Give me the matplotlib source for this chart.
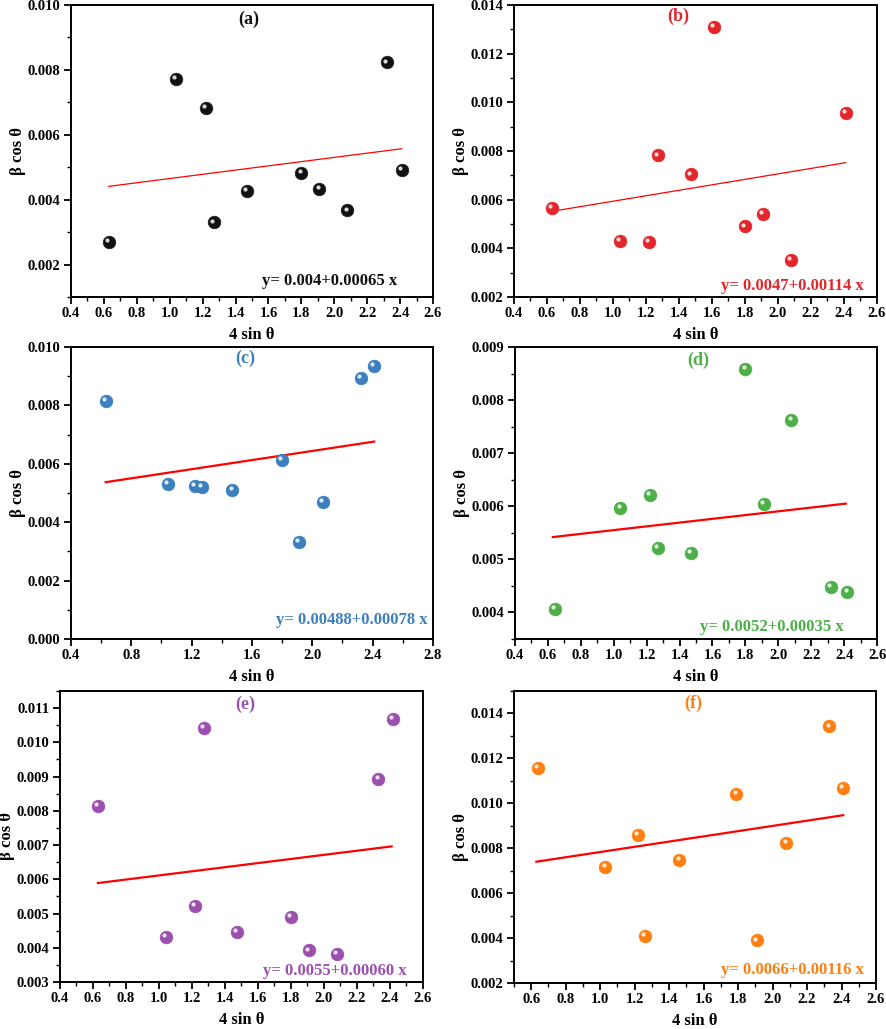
import numpy as np
import matplotlib.pyplot as plt
from matplotlib.ticker import MultipleLocator, FormatStrFormatter
import matplotlib.transforms as mtransforms

plt.rcParams['font.family'] = ['Liberation Serif', 'DejaVu Serif']
plt.rcParams['font.weight'] = 'bold'

# Данные по панелям (4 sin θ, β cos θ)
x_a = [0.63, 1.04, 1.22, 1.27, 1.47, 1.80, 1.91, 2.08, 2.32, 2.41]
y_a = [0.00271, 0.00773, 0.00682, 0.00330, 0.00428, 0.00482, 0.00432, 0.00367, 0.00823, 0.00491]

x_b = [0.63, 1.04, 1.22, 1.27, 1.47, 1.61, 1.80, 1.91, 2.08, 2.41]
y_b = [0.00566, 0.00432, 0.00426, 0.00782, 0.00704, 0.01311, 0.00490, 0.00542, 0.00352, 0.00958]

x_c = [0.63, 1.04, 1.22, 1.27, 1.47, 1.80, 1.91, 2.07, 2.32, 2.41]
y_c = [0.00814, 0.00531, 0.00524, 0.00521, 0.00510, 0.00614, 0.00332, 0.00469, 0.00894, 0.00936]

x_d = [0.64, 1.04, 1.22, 1.27, 1.47, 1.80, 1.91, 2.08, 2.32, 2.42]
y_d = [0.00407, 0.00597, 0.00621, 0.00521, 0.00512, 0.00859, 0.00604, 0.00763, 0.00448, 0.00438]

x_e = [0.63, 1.04, 1.22, 1.27, 1.47, 1.80, 1.91, 2.08, 2.33, 2.42]
y_e = [0.00814, 0.00431, 0.00523, 0.01043, 0.00446, 0.00491, 0.00392, 0.00381, 0.00893, 0.01068]

x_f = [0.64, 1.03, 1.22, 1.26, 1.46, 1.79, 1.91, 2.08, 2.33, 2.41]
y_f = [0.01156, 0.00717, 0.00858, 0.00411, 0.00748, 0.01041, 0.00390, 0.00822, 0.01342, 0.01070]

# Линейная аппроксимация: концы прямой (x от 0.63 до 2.41)
fit_x = [0.63, 2.41]
fit_a = [0.00441, 0.00557]
fit_b = [0.00552, 0.00752]
fit_c = [0.00537, 0.00676]
fit_d = [0.00542, 0.00605]
fit_e = [0.00589, 0.00696]
fit_f = [0.00740, 0.00947]

labels = ['(a)', '(b)', '(c)', '(d)', '(e)', '(f)']
equations = ['y= 0.004+0.00065 x', 'y= 0.0047+0.00114 x', 'y= 0.00488+0.00078 x',
             'y= 0.0052+0.00035 x', 'y= 0.0055+0.00060 x', 'y= 0.0066+0.00116 x']
colors = ['#111111', '#e3262b', '#3b7fbf', '#4caf48', '#9b4fae', '#ff7f10']

xs = [x_a, x_b, x_c, x_d, x_e, x_f]
ys = [y_a, y_b, y_c, y_d, y_e, y_f]
fits = [fit_a, fit_b, fit_c, fit_d, fit_e, fit_f]

# оформление осей
xlims = [(0.4, 2.6), (0.4, 2.6), (0.4, 2.8), (0.4, 2.6), (0.4, 2.6), (0.5, 2.6)]
ylims = [(0.001, 0.010), (0.002, 0.014), (0.000, 0.010), (0.0035, 0.009), (0.003, 0.0115), (0.002, 0.015)]
xmajor = [0.2, 0.2, 0.4, 0.2, 0.2, 0.2]
xminor = [0.1, 0.1, 0.2, 0.1, 0.1, 0.1]
ymajor = [0.002, 0.002, 0.002, 0.001, 0.001, 0.002]
yminor = [0.001, 0.001, 0.001, 0.0005, 0.0005, 0.001]
fit_lw = [0.9, 0.9, 1.6, 1.6, 1.6, 1.6]
positions = [[0.0801, 0.7114, 0.4086, 0.2837], [0.5801, 0.7114, 0.4097, 0.2837],
             [0.0801, 0.3790, 0.4086, 0.2838], [0.5813, 0.3790, 0.4086, 0.2838],
             [0.0677, 0.0457, 0.4097, 0.2828], [0.5801, 0.0447, 0.4086, 0.2838]]
lab_pos = [(0.49, 0.952), (0.453, 0.962), (0.481, 0.962), (0.506, 0.953), (0.511, 0.953), (0.496, 0.957)]
eq_pos = [(0.90, 0.055), (0.964, 0.038), (0.986, 0.066), (0.909, 0.04), (0.956, 0.039), (0.967, 0.043)]

fig = plt.figure(figsize=(8.86, 10.29), dpi=100)

for i in range(6):
    ax = fig.add_axes(positions[i])
    ax.plot(fit_x, fits[i], color='red', lw=fit_lw[i], zorder=2)
    # "шарики": основной маркер + блик
    ax.plot(xs[i], ys[i], 'o', ms=9, color=colors[i], mec='#222222' if i == 0 else colors[i],
            mew=0.6, zorder=3)
    hl = mtransforms.offset_copy(ax.transData, fig=fig, x=-1.3, y=1.3, units='points')
    ax.plot(xs[i], ys[i], 'o', ms=3, color='white', alpha=0.85, mew=0, transform=hl, zorder=4)

    ax.set_xlim(*xlims[i])
    ax.set_ylim(*ylims[i])
    ax.xaxis.set_major_locator(MultipleLocator(xmajor[i]))
    ax.xaxis.set_minor_locator(MultipleLocator(xminor[i]))
    ax.yaxis.set_major_locator(MultipleLocator(ymajor[i]))
    ax.yaxis.set_minor_locator(MultipleLocator(yminor[i]))
    ax.xaxis.set_major_formatter(FormatStrFormatter('%.1f'))
    ax.yaxis.set_major_formatter(FormatStrFormatter('%.3f'))
    ax.tick_params(which='major', direction='out', length=5, width=1.3, labelsize=10.5, pad=2.5)
    ax.tick_params(which='minor', direction='out', length=3, width=1.0)
    for s in ax.spines.values():
        s.set_linewidth(1.4)

    ax.set_xlabel('4 sin θ', fontsize=12, fontweight='bold', labelpad=5)
    ax.set_ylabel('β cos θ', fontsize=12, fontweight='bold', labelpad=1)
    ax.text(lab_pos[i][0], lab_pos[i][1], labels[i], transform=ax.transAxes, ha='center', va='center',
            fontsize=13, fontweight='bold', color=colors[i])
    ax.text(eq_pos[i][0], eq_pos[i][1], equations[i], transform=ax.transAxes, ha='right', va='center',
            fontsize=12, fontweight='bold', color=colors[i])

plt.savefig('out.png', dpi=100)
